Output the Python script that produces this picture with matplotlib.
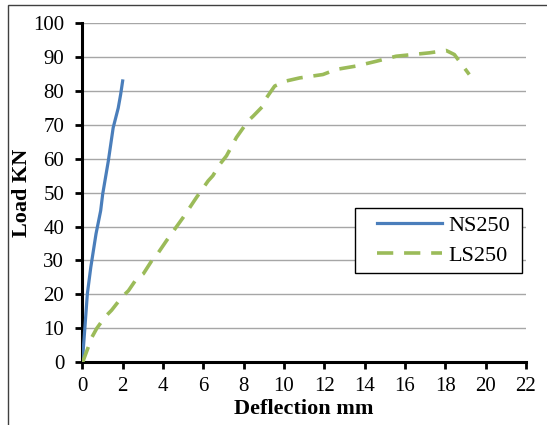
import matplotlib
matplotlib.use('Agg')
from matplotlib import pyplot as plt
from matplotlib.patches import Rectangle

# NS250 load-deflection
ns_x = [0, 0.13, 0.25, 0.42, 0.68, 0.91, 1.01, 1.29, 1.53, 1.78, 1.9, 2.0]
ns_y = [0, 10.4, 20.2, 28, 37.9, 44.7, 49.6, 59.4, 69.2, 75, 79, 83]

# LS250 load-deflection
ls_x = [0, 0.05, 0.48, 0.71, 1.12, 1.45, 1.95, 2.29, 2.69, 3.03, 3.45, 3.78, 4.18,
        5.0, 5.66, 6.24, 6.47, 6.82, 7.15, 7.64, 8.22, 8.47, 8.96, 9.13, 9.54,
        10.12, 10.78, 11.93, 12.59, 13.58, 14.57, 15.56, 17.21, 18.04, 18.45, 19.19]
ls_y = [0, 0.5, 7.4, 9.9, 13.3, 15.3, 19.1, 21.1, 24.6, 26.1, 30, 32.4, 35.9,
        42.7, 48.6, 53.5, 55, 58.4, 60.9, 66.3, 71.2, 72.6, 75.6, 78, 81.5,
        83, 83.9, 84.9, 86.4, 87.4, 88.8, 90.3, 91.3, 92, 90.8, 84.9]

x_ticks = list(range(0, 23, 2))
y_ticks = list(range(0, 101, 10))

plt.rcParams['font.family'] = ['Liberation Serif', 'DejaVu Serif']

fig = plt.figure(figsize=(5.47, 4.25), dpi=100)
ax = fig.add_axes([0.1505, 0.148, 0.811, 0.797])

# outer chart border (right and bottom edges fall outside the canvas)
fig.patches.append(Rectangle((8 / 547, -0.05), 1.2, 1.05 - 5 / 425, transform=fig.transFigure,
                             fill=False, edgecolor='#404040', linewidth=1.0, zorder=0))

ax.plot(ns_x, ns_y, color='#4A7EBB', linewidth=2.3, label='NS250', zorder=3)
ax.plot(ls_x, ls_y, color='#9BBB59', linewidth=2.6, linestyle=(0, (4.5, 3)), label='LS250', zorder=3)

ax.set_xlim(0, 22)
ax.set_ylim(0, 100)
ax.set_xticks(x_ticks)
ax.set_yticks(y_ticks)
ax.yaxis.grid(True, color='#A6A6A6', linewidth=1.0)
ax.set_axisbelow(True)

for side in ['top', 'right']:
    ax.spines[side].set_visible(False)
for side in ['left', 'bottom']:
    ax.spines[side].set_linewidth(2.2)
ax.tick_params(axis='both', direction='out', length=5, width=2, labelsize=15)
ax.tick_params(axis='y', pad=8)
ax.tick_params(axis='x', pad=6)

ax.set_xlabel('Deflection mm', fontsize=16, fontweight='bold', labelpad=2)
ax.set_ylabel('Load KN', fontsize=16, fontweight='bold', labelpad=1)

# legend box drawn separately so the padding inside it can be set freely
ax.add_patch(Rectangle((0.6146, 0.2621), 0.3764, 0.1921, transform=ax.transAxes,
                       facecolor='white', edgecolor='black', linewidth=1.0, zorder=4))
leg = ax.legend(loc='center left', bbox_to_anchor=(0.664, 0.358), fontsize=16, frameon=False,
                handlelength=2.93, borderpad=0, labelspacing=0.42, handletextpad=0.27,
                borderaxespad=0)
leg.set_zorder(5)

fig.savefig('out.png', dpi=100)
